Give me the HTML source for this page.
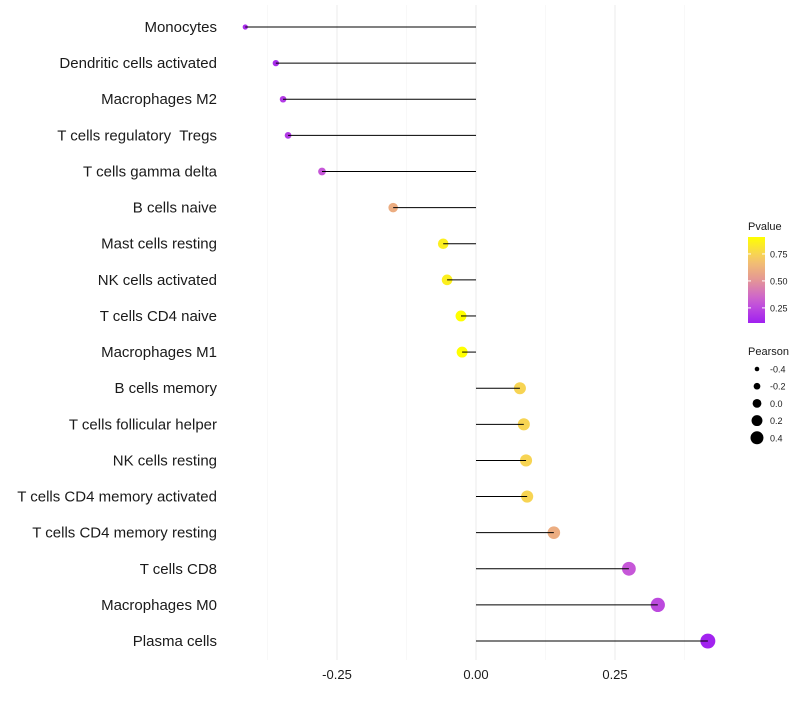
<!DOCTYPE html>
<html><head><meta charset="utf-8"><style>
body{margin:0;background:#fff;font-family:"Liberation Sans",sans-serif}
</style></head><body>
<svg id="chart" width="800" height="700" xmlns="http://www.w3.org/2000/svg" font-family="Liberation Sans, sans-serif"></svg>
<script>
const categories=["Monocytes","Dendritic cells activated","Macrophages M2","T cells regulatory  Tregs","T cells gamma delta","B cells naive","Mast cells resting","NK cells activated","T cells CD4 naive","Macrophages M1","B cells memory","T cells follicular helper","NK cells resting","T cells CD4 memory activated","T cells CD4 memory resting","T cells CD8","Macrophages M0","Plasma cells"];
const pearson=[-0.415,-0.36,-0.347,-0.338,-0.277,-0.149,-0.059,-0.052,-0.027,-0.025,0.079,0.086,0.09,0.092,0.14,0.275,0.327,0.417];
const pvalue=[0.15,0.15,0.2,0.2,0.3,0.6,0.85,0.85,0.95,0.95,0.75,0.75,0.75,0.75,0.6,0.3,0.25,0.12];
const xTicks=[-0.25,0,0.25];
const xTickLabels=["-0.25","0.00","0.25"];
const xMinor=[-0.375,-0.125,0.125,0.375];
const pTicks=[0.25,0.5,0.75];
const pTickLabels=["0.25","0.50","0.75"];
const sizeBreaks=[-0.4,-0.2,0,0.2,0.4];
const sizeLabels=["-0.4","-0.2","0.0","0.2","0.4"];

const svg=document.getElementById('chart');
const NS='http://www.w3.org/2000/svg';
function mk(t,a,p){const e=document.createElementNS(NS,t);for(const k in a)e.setAttribute(k,a[k]);(p||svg).appendChild(e);return e;}
const x=v=>476+v*556;
const y=i=>27+i*36.12;
const r=v=>Math.sqrt(Math.max(1,31.3+59*v));
const pMin=0.11,pMax=0.907;
function col(p){const t=Math.max(0,Math.min(1,(p-pMin)/(pMax-pMin)));
 const stops=[[160,32,240],[200,90,215],[228,150,150],[245,200,105],[255,255,0]];
 const s=t*(stops.length-1),i=Math.min(stops.length-2,Math.floor(s)),f=s-i;
 const c=stops[i].map((v,k)=>Math.round(v+(stops[i+1][k]-v)*f));return `rgb(${c})`;}
// grid
xMinor.forEach(v=>{const l=mk('line',{x1:x(v),x2:x(v),y1:5,y2:660,stroke:'#f3f3f3','stroke-width':0.6});
});
xTicks.forEach((v,i)=>{const l=mk('line',{x1:x(v),x2:x(v),y1:5,y2:660,stroke:'#ebebeb','stroke-width':1});

const t=mk('text',{x:x(v),y:679,'text-anchor':'middle','font-size':13,fill:'#1a1a1a'});t.textContent=xTickLabels[i];
});
categories.forEach((c,i)=>{
 const t=mk('text',{x:217,y:y(i)+5,'text-anchor':'end','font-size':15,fill:'#1a1a1a','xml:space':'preserve',style:'white-space:pre'});t.textContent=c;
 
 const d=mk('circle',{cx:x(pearson[i]),cy:y(i),r:r(pearson[i]),fill:col(pvalue[i])});
 
 const l=mk('line',{x1:x(0),x2:x(pearson[i]),y1:y(i),y2:y(i),stroke:'#000','stroke-width':1});
 
});
// color legend
const lt=mk('text',{x:748,y:230,'font-size':11,fill:'#1a1a1a'});lt.textContent='Pvalue';

const defs=mk('defs',{});const g=mk('linearGradient',{id:'pg',x1:0,y1:1,x2:0,y2:0},defs);
for(let k=0;k<=10;k++){mk('stop',{offset:k/10,'stop-color':col(pMin+(pMax-pMin)*k/10)},g);}
const bar=mk('rect',{x:748,y:237,width:17,height:86,fill:'url(#pg)'});

const py=p=>323-(p-pMin)/(pMax-pMin)*86;
pTicks.forEach((p,i)=>{mk('line',{x1:748,x2:751,y1:py(p),y2:py(p),stroke:'#fff'});mk('line',{x1:762,x2:765,y1:py(p),y2:py(p),stroke:'#fff'});
const t=mk('text',{x:770,y:py(p)+3.5,'font-size':9,fill:'#1a1a1a'});t.textContent=pTickLabels[i];
});
// size legend
const st=mk('text',{x:748,y:355,'font-size':11,fill:'#1a1a1a'});st.textContent='Pearson';

sizeBreaks.forEach((v,i)=>{const cy=369+i*17.2;
const c=mk('circle',{cx:757,cy:cy,r:2.3+i*1.05,fill:'#000'});

const t=mk('text',{x:770,y:cy+3.5,'font-size':9,fill:'#1a1a1a'});t.textContent=sizeLabels[i];
});
</script>
</body></html>
